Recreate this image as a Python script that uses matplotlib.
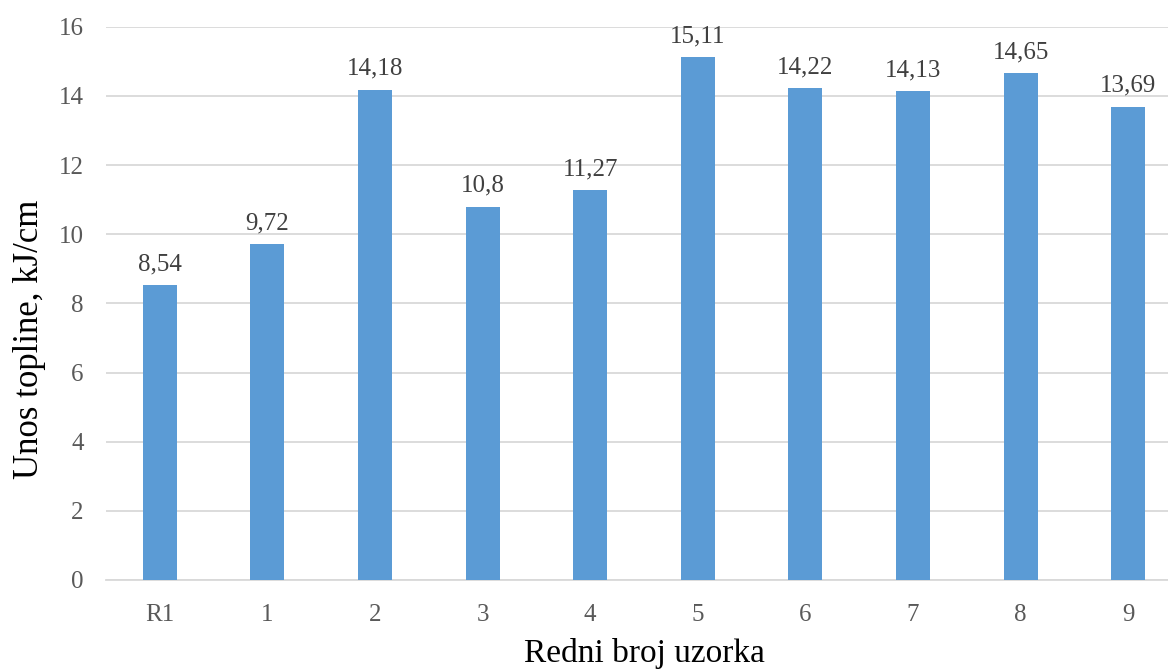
import numpy as np
import matplotlib
matplotlib.use("Agg")
import matplotlib.pyplot as plt

# --- data ---
categories = ["R1", "1", "2", "3", "4", "5", "6", "7", "8", "9"]
values = [8.54, 9.72, 14.18, 10.8, 11.27, 15.11, 14.22, 14.13, 14.65, 13.69]
value_labels = ["8,54", "9,72", "14,18", "10,8", "11,27", "15,11", "14,22", "14,13", "14,65", "13,69"]
y_ticks = [0, 2, 4, 6, 8, 10, 12, 14, 16]

plt.rcParams['font.family'] = ['Liberation Serif', 'DejaVu Serif']
text_col = '#595959'

fig = plt.figure(figsize=(11.68, 6.70), dpi=100)
ax = fig.add_axes([106 / 1168, 90 / 670, 1076 / 1168, 553.3 / 670])

x = np.arange(len(categories))
ax.bar(x, values, width=0.316, color='#5B9BD5', zorder=3)

for xi, v, lab in zip(x, values, value_labels):
    ax.annotate(lab, (xi, v), xytext=(0, 7), textcoords='offset points',
                ha='center', va='bottom', fontsize=18, color='#404040')

ax.set_xlim(-0.5, len(categories) - 0.5)
ax.set_ylim(0, 16)
ax.set_yticks(y_ticks)
ax.set_yticklabels([str(t) for t in y_ticks])
ax.set_xticks(x)
ax.set_xticklabels(categories)

ax.grid(axis='y', color='#D9D9D9', lw=1.3, zorder=0)
for s in ['top', 'right', 'left']:
    ax.spines[s].set_visible(False)
ax.spines['bottom'].set_color('#D9D9D9')
ax.spines['bottom'].set_linewidth(1.3)
ax.tick_params(axis='both', length=0, labelsize=18, colors=text_col)
ax.tick_params(axis='y', pad=16)
ax.tick_params(axis='x', pad=17)

ax.set_xlabel("Redni broj uzorka", fontsize=24, color='black', labelpad=9)
ax.set_ylabel("Unos topline, kJ/cm", fontsize=25, color='black')
ax.yaxis.set_label_coords(-0.056, 0.434)

fig.savefig("out.png", dpi=100)
